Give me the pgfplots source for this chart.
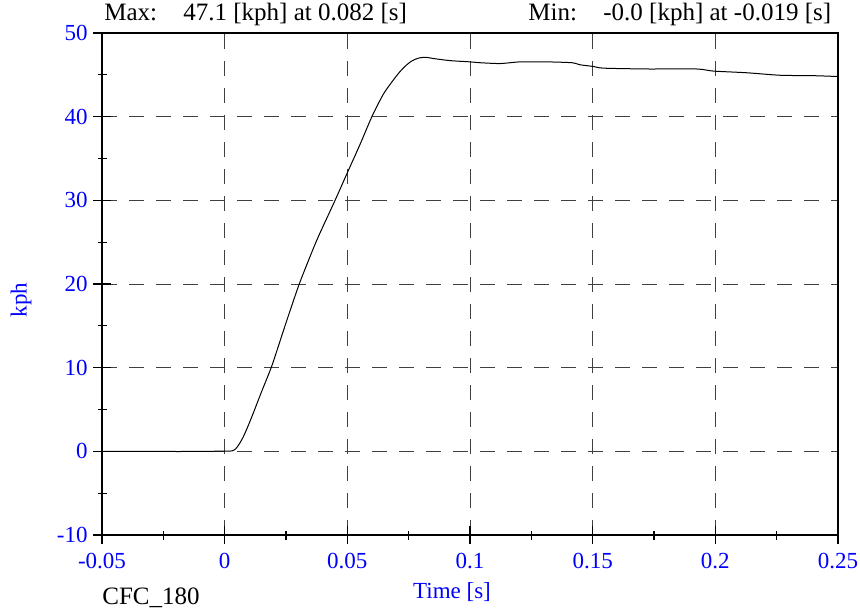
\documentclass[border=0pt]{standalone}
\usepackage{fontspec}
\setmainfont{Liberation Serif}
\usepackage{pgfplots}
\pgfplotsset{compat=1.18}
\definecolor{tickblue}{RGB}{0,0,255}
\begin{document}
\begin{tikzpicture}
\path[use as bounding box] (0,0) rectangle (430pt,305.5pt);
\begin{axis}[
  at={(51pt,38pt)}, anchor=south west,
  scale only axis, width=368pt, height=251pt,
  xmin=-0.05, xmax=0.25, ymin=-10, ymax=50,
  xtick={-0.05,0,0.05,0.1,0.15,0.2,0.25},
  xticklabels={-0.05,0,0.05,0.1,0.15,0.2,0.25},
  minor xtick={-0.025,0.025,0.075,0.125,0.175,0.225},
  ytick={-10,0,10,20,30,40,50},
  yticklabels={-10,0,10,20,30,40,50},
  minor ytick={-5,5,15,25,35,45},
  xtick pos=bottom, ytick pos=left,
  tick align=center, major tick length=9pt, minor tick length=4.5pt,
  tick style={line width=0.6pt, black},
  axis line style={line width=1pt, black},
  grid=major,
  major grid style={dash pattern=on 7.5pt off 6pt, line width=0.5pt, color=black!75},
  xticklabel style={font=\fontsize{11.5}{13}\selectfont, text=tickblue, anchor=base, yshift=-12pt, inner sep=0pt},
  yticklabel style={font=\fontsize{11.5}{13}\selectfont, text=tickblue, anchor=east, xshift=-2.5pt, inner sep=0pt},
]
\addplot[black, line width=0.5pt, smooth, tension=0.4] table {
-0.05 0
-0.03 0
-0.019 -0.02
-0.01 0
0.0 0.02
0.003 0.05
0.0045 0.3
0.006 0.9
0.0076 1.74
0.0095 3.0
0.0117 4.6
0.015 7.1
0.0192 10.2
0.0246 15.0
0.0304 20.0
0.0375 25.2
0.045 30.0
0.05 33.3
0.0552 36.7
0.060 40.0
0.0647 42.7
0.0688 44.4
0.0715 45.4
0.0742 46.2
0.0765 46.7
0.079 47.0
0.082 47.1
0.0851 46.95
0.0919 46.7
0.1 46.55
0.1041 46.45
0.1123 46.35
0.1204 46.55
0.1313 46.55
0.1415 46.45
0.1449 46.2
0.1503 46.0
0.1544 45.8
0.1721 45.7
0.1924 45.7
0.1992 45.45
0.2128 45.25
0.2264 44.95
0.24 44.9
0.25 44.8
};
\end{axis}
\begin{scope}[every node/.style={inner sep=0pt, font=\fontsize{12.5}{14}\selectfont}]
\node[anchor=base west] at (52pt,295pt) {Max:};
\node[anchor=base west] at (91.5pt,295pt) {47.1 [kph] at 0.082 [s]};
\node[anchor=base west] at (264pt,295pt) {Min:};
\node[anchor=base west] at (301.5pt,295pt) {-0.0 [kph] at -0.019 [s]};
\node[anchor=base west] at (51pt,3.5pt) {CFC\_180};
\node[anchor=base, text=tickblue, font=\fontsize{11.5}{13}\selectfont] at (226pt,6.5pt) {Time [s]};
\node[rotate=90, text=tickblue, font=\fontsize{11.5}{13}\selectfont] at (10.5pt,155.5pt) {kph};
\end{scope}
\end{tikzpicture}
\end{document}
